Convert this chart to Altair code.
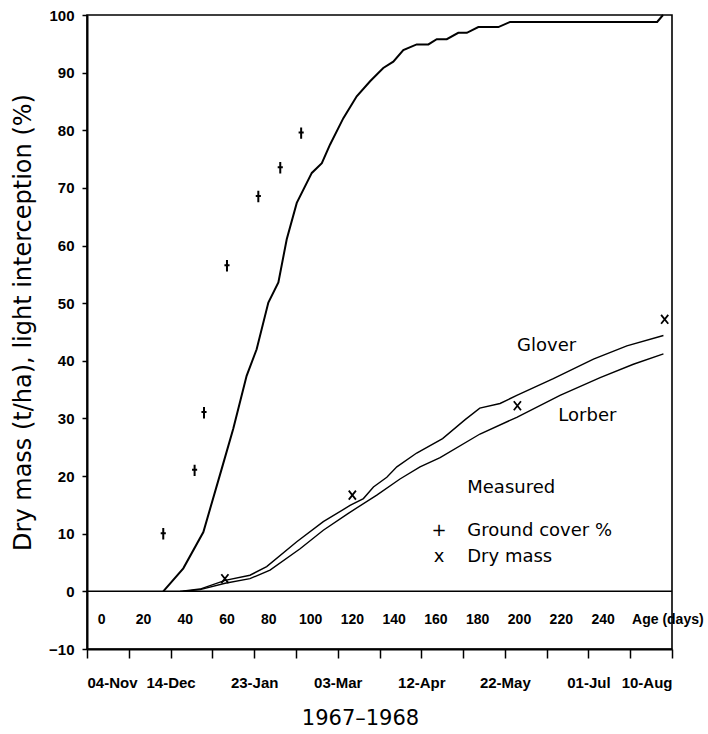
import altair as alt
import pandas as pd

# ---- data ----
# light interception curve (%), age in days
li_age = [29.5, 39.1, 48.7, 57.5, 63.0, 69.4, 74.2, 79.8, 84.6, 88.6, 93.4, 100.6,
          105.4, 109.3, 115.7, 122.1, 128.5, 134.8, 139.6, 144.4, 150.8, 156.4, 160.4,
          165.2, 170.7, 174.8, 180.3, 189.9, 195.5, 265.9, 268.7]
li_val = [0, 4.0, 10.3, 21.3, 28.2, 37.4, 42.0, 50.1, 53.6, 61.1, 67.4, 72.6,
          74.3, 77.5, 82.1, 85.9, 88.5, 90.8, 91.9, 93.9, 94.9, 94.9, 95.8,
          95.8, 96.9, 96.9, 97.9, 97.9, 98.8, 98.8, 100]

# simulated dry mass (t/ha)
glover_age = [37.5, 47.1, 59.1, 71.0, 79.0, 93.4, 106.1, 118.9, 125.3, 130.1, 136.5,
              141.3, 150.8, 163.2, 174.0, 181.0, 190.7, 198.7, 216.2, 235.4, 251.4, 268.9]
glover_val = [0, 0.4, 1.9, 2.8, 4.3, 8.6, 12.1, 14.9, 16.1, 18.1, 19.8,
              21.6, 24.0, 26.5, 29.8, 31.8, 32.6, 34.0, 36.9, 40.3, 42.6, 44.4]
lorber_age = [39, 47.1, 59.1, 71.0, 80.6, 95.0, 106.1, 117.9, 131.7, 142.8, 152.4,
              162.0, 181.1, 198.7, 219.4, 238.6, 254.5, 268.9]
lorber_val = [0, 0.3, 1.4, 2.2, 3.7, 7.4, 10.6, 13.5, 16.7, 19.5, 21.6,
              23.2, 27.3, 30.2, 34.0, 37.1, 39.4, 41.2]

# measured
cover_age = [29.5, 44.5, 49, 60, 75, 85.5, 95.5]
cover_val = [10, 21, 31, 56.5, 68.5, 73.5, 79.5]
mass_age = [59, 120, 199, 269.5]
mass_val = [2.2, 16.7, 32.2, 47.2]

# axes / labels
x_domain = [-7, 273]
y_domain = [-10, 100]
y_ticks = list(range(-10, 101, 10))
date_tick_age = list(range(-7, 274, 20))
date_labels = ["04-Nov", "14-Dec", "23-Jan", "03-Mar", "12-Apr", "22-May", "01-Jul", "10-Aug"]
age_labels = [0, 20, 40, 60, 80, 100, 120, 140, 160, 180, 200, 220, 240]
age_label_y = -5

curve_names = ["Glover", "Lorber"]
curve_name_age = [213, 232.5]
curve_name_val = [42.6, 30.4]

legend_texts = ["Measured", "Ground cover %", "Dry mass"]
legend_text_age = [175, 175, 175]
legend_text_val = [18, 10.5, 5.9]
legend_syms = ["+", "x"]
legend_sym_age = [161.5, 161.5]
legend_sym_val = [10.5, 5.9]

# ---- chart ----
LABEL_FONT = "Liberation Sans"
TEXT_FONT = "DejaVu Sans"

date_expr = (f"(datum.value - ({x_domain[0]})) % 40 == 0 ? "
             f"{date_labels}[(datum.value - ({x_domain[0]})) / 40] : ''")

X = alt.X("age:Q", scale=alt.Scale(domain=x_domain, nice=False, zero=False),
          axis=alt.Axis(values=date_tick_age, labelExpr=date_expr, grid=False,
                        tickSize=9, tickWidth=1.5, labelPadding=17,
                        labelFont=LABEL_FONT, labelFontWeight="bold", labelFontSize=15,
                        labelColor="black", labelOverlap=False,
                        title="1967\u20131968", titleFont=TEXT_FONT, titleFontSize=21,
                        titleFontWeight="normal", titleColor="black",
                        titleX=273, titleY=69, titleBaseline="middle", titleAnchor="start",
                        titleAlign="center"))
Y = alt.Y("val:Q", scale=alt.Scale(domain=y_domain, nice=False, zero=False),
          axis=alt.Axis(values=y_ticks, grid=False, tickSize=5, tickWidth=1.5,
                        labelPadding=8, labelFont=LABEL_FONT, labelFontWeight="bold",
                        labelFontSize=15, labelColor="black",
                        title="Dry mass (t/ha), light interception (%)",
                        titleFont=TEXT_FONT, titleFontSize=24, titleFontWeight="normal",
                        titleColor="black", titleAngle=-90, titleX=-57, titleY=307,
                        titleBaseline="alphabetic", titleAlign="center"))

zero_df = pd.DataFrame({"age": x_domain, "val": [0, 0]})
li_df = pd.DataFrame({"age": li_age, "val": li_val})
gl_df = pd.DataFrame({"age": glover_age, "val": glover_val})
lo_df = pd.DataFrame({"age": lorber_age, "val": lorber_val})
cov_df = pd.DataFrame({"age": cover_age, "val": cover_val})
mass_df = pd.DataFrame({"age": mass_age, "val": mass_val})
agelab_df = pd.DataFrame({"age": age_labels, "val": [age_label_y] * len(age_labels),
                          "t": [str(a) for a in age_labels]})
agetitle_df = pd.DataFrame({"age": [271], "val": [age_label_y], "t": ["Age (days)"]})
names_df = pd.DataFrame({"age": curve_name_age, "val": curve_name_val, "t": curve_names})
legt_df = pd.DataFrame({"age": legend_text_age, "val": legend_text_val, "t": legend_texts})
legs_df = pd.DataFrame({"age": legend_sym_age, "val": legend_sym_val, "t": legend_syms})

zero_line = alt.Chart(zero_df).mark_line(color="black", strokeWidth=1.5).encode(x=X, y=Y)
li_line = alt.Chart(li_df).mark_line(color="black", strokeWidth=2).encode(x=X, y=Y)
gl_line = alt.Chart(gl_df).mark_line(color="black", strokeWidth=1.4).encode(x=X, y=Y)
lo_line = alt.Chart(lo_df).mark_line(color="black", strokeWidth=1.4).encode(x=X, y=Y)

plus_shape = "M0,-1L0,1M-0.45,-0.1L0.45,-0.1"
cross_shape = "M-0.8,-1L0.8,1M0.8,-1L-0.8,1"
cov_pts = alt.Chart(cov_df).mark_point(shape=plus_shape, size=130, filled=False,
                                       color="black", strokeWidth=2, opacity=1).encode(x=X, y=Y)
mass_pts = alt.Chart(mass_df).mark_point(shape=cross_shape, size=80, filled=False,
                                         color="black", strokeWidth=1.8, opacity=1).encode(x=X, y=Y)

agelab = alt.Chart(agelab_df).mark_text(font=LABEL_FONT, fontWeight="bold", fontSize=14,
                                         color="black", baseline="middle", align="center"
                                         ).encode(x=X, y=Y, text="t:N")
agetitle = alt.Chart(agetitle_df).mark_text(font=LABEL_FONT, fontWeight="bold", fontSize=14,
                                             color="black", baseline="middle", align="center"
                                             ).encode(x=X, y=Y, text="t:N")
names = alt.Chart(names_df).mark_text(font=TEXT_FONT, fontSize=18, color="black",
                                      baseline="middle", align="center").encode(x=X, y=Y, text="t:N")
legt = alt.Chart(legt_df).mark_text(font=TEXT_FONT, fontSize=18, color="black",
                                    baseline="middle", align="left").encode(x=X, y=Y, text="t:N")
legs = alt.Chart(legs_df).mark_text(font=TEXT_FONT, fontSize=18, color="black",
                                    baseline="middle", align="center").encode(x=X, y=Y, text="t:N")

chart = alt.layer(zero_line, li_line, gl_line, lo_line, cov_pts, mass_pts,
                  agelab, agetitle, names, legt, legs).properties(
    width=585, height=634,
    autosize=alt.AutoSizeParams(type="none"),
    padding={"left": 87, "top": 15, "right": 36, "bottom": 85},
    background="white",
).configure_view(stroke="black", strokeWidth=1.6).configure_axis(
    domainColor="black", domainWidth=2, tickColor="black")

chart.save("out.html", embed_options={"renderer": "svg", "actions": False})
